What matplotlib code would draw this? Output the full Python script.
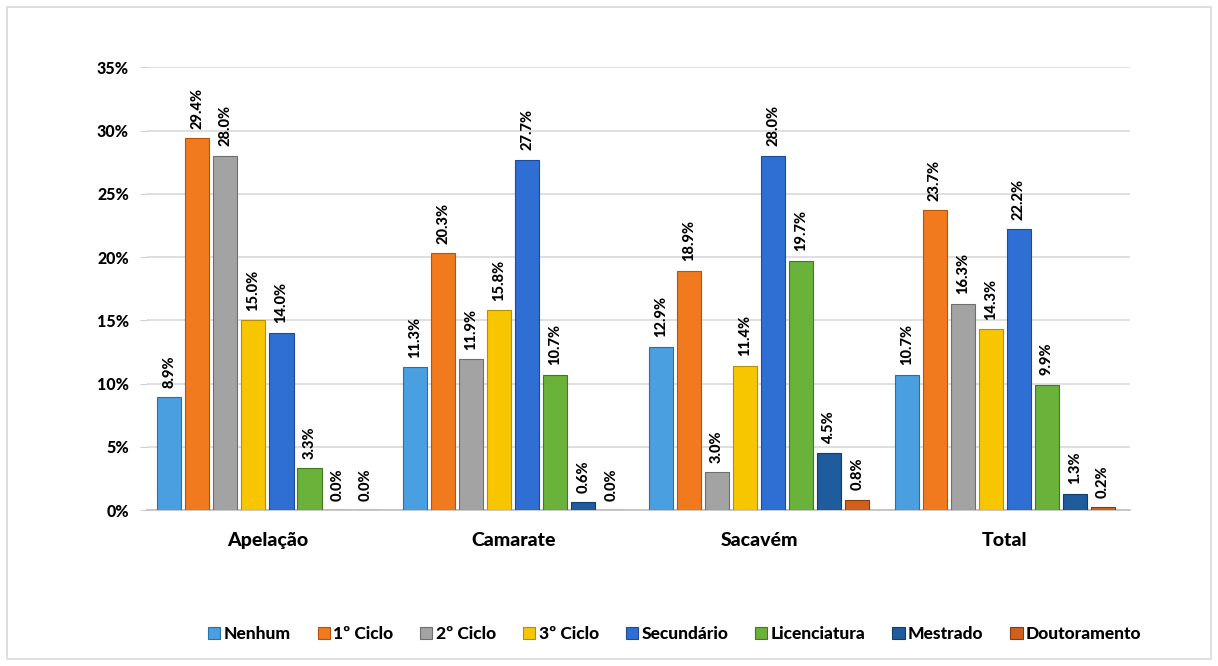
import matplotlib.pyplot as plt
import numpy as np
from matplotlib.patches import Rectangle

# Data
groups = ["Apelação", "Camarate", "Sacavém", "Total"]
levels = ["Nenhum", "1º Ciclo", "2º Ciclo", "3º Ciclo", "Secundário",
          "Licenciatura", "Mestrado", "Doutoramento"]
apelacao = [8.9, 29.4, 28.0, 15.0, 14.0, 3.3, 0.0, 0.0]
camarate = [11.3, 20.3, 11.9, 15.8, 27.7, 10.7, 0.6, 0.0]
sacavem = [12.9, 18.9, 3.0, 11.4, 28.0, 19.7, 4.5, 0.8]
total = [10.7, 23.7, 16.3, 14.3, 22.2, 9.9, 1.3, 0.2]
colors = ["#4a9fe0", "#f27a1e", "#a3a3a3", "#f7c600", "#2f6fd4",
          "#6ab23a", "#1f5c9e", "#d0601c"]
edges = ["#2a6fa8", "#b5520c", "#6e6e6e", "#b58f00", "#1c4a9a",
         "#427a1e", "#123c6a", "#8c3a0c"]

plt.rcParams['font.family'] = ['Lato', 'DejaVu Sans']
plt.rcParams['font.weight'] = 'bold'

data = np.array([apelacao, camarate, sacavem, total])
x = np.arange(len(groups))
step = 0.114
width = 0.098

fig = plt.figure(figsize=(12.18, 6.66), dpi=100)
ax = fig.add_axes([0.1207, 0.2342, 0.8073, 0.6648])

for i, lev in enumerate(levels):
    pos = x + (i - 3.5) * step
    vals = data[:, i]
    ax.bar(pos, vals, width, color=colors[i], edgecolor=edges[i],
           linewidth=0.8, label=lev, zorder=3)
    for p, v in zip(pos, vals):
        ax.text(p, v + 0.75, f"{v:.1f}%", rotation=90, ha='center', va='bottom',
                fontsize=10.5, fontweight=900, color='#000000', zorder=4)

ax.set_ylim(0, 35)
ax.set_xlim(-0.49, 3.51)
ax.set_yticks(np.arange(0, 36, 5))
ax.set_yticklabels([f"{t}%" for t in range(0, 36, 5)], fontsize=11.5, fontweight=900)
ax.set_xticks(x)
ax.set_xticklabels(groups, fontsize=14, fontweight=900)
ax.tick_params(axis='x', length=0, pad=16)
ax.tick_params(axis='y', length=5, color='#d0d0d0', pad=8)
ax.grid(axis='y', color='#d9d9d9', linewidth=1.2, zorder=0)
for s in ['top', 'right', 'left']:
    ax.spines[s].set_visible(False)
ax.spines['bottom'].set_color('#bfbfbf')
ax.spines['bottom'].set_linewidth(1.2)

leg = fig.legend(loc='center', bbox_to_anchor=(0.554, 0.048), ncol=8, frameon=False,
                 prop={'size': 12.5, 'weight': 900}, handlelength=0.7, handleheight=0.7,
                 handletextpad=0.2, columnspacing=1.55)

fig.patches.append(Rectangle((0.006, 0.01), 0.988, 0.98, transform=fig.transFigure,
                             fill=False, edgecolor='#d9d9d9', linewidth=1.2))

fig.savefig("out.png", dpi=100)
